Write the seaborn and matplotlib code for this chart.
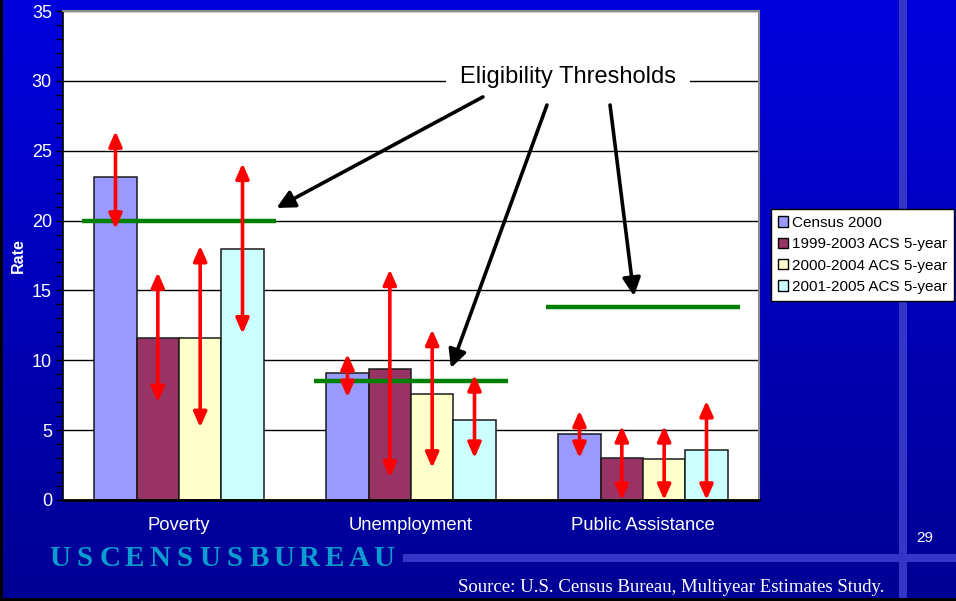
import numpy as np
import pandas as pd
import matplotlib
matplotlib.use("Agg")
import matplotlib.pyplot as plt
from matplotlib.patches import Patch, Rectangle
import seaborn as sns

# ---- data -------------------------------------------------------------
categories = ["Poverty", "Unemployment", "Public Assistance"]
series = ["Census 2000", "1999-2003 ACS 5-year",
          "2000-2004 ACS 5-year", "2001-2005 ACS 5-year"]
series_colors = ["#9999FF", "#993366", "#FFFFCC", "#CCFFFF"]

census_2000 = [23.1, 9.1, 4.7]
acs_1999_2003 = [11.6, 9.4, 3.0]
acs_2000_2004 = [11.6, 7.6, 2.9]
acs_2001_2005 = [18.0, 5.7, 3.6]

# interval bounds (low, high) per series, one value per category
census_2000_low = [19.4, 7.35, 3.0]
census_2000_high = [26.4, 10.45, 6.4]
acs_1999_2003_low = [7.0, 1.6, 0.0]
acs_1999_2003_high = [16.3, 16.5, 5.3]
acs_2000_2004_low = [5.2, 2.3, 0.0]
acs_2000_2004_high = [18.2, 12.2, 5.3]
acs_2001_2005_low = [11.9, 3.0, 0.0]
acs_2001_2005_high = [24.1, 8.95, 7.1]

thresholds = [20.0, 8.5, 13.8]
yticks = [0, 5, 10, 15, 20, 25, 30, 35]

values = [census_2000, acs_1999_2003, acs_2000_2004, acs_2001_2005]
lows = [census_2000_low, acs_1999_2003_low, acs_2000_2004_low, acs_2001_2005_low]
highs = [census_2000_high, acs_1999_2003_high, acs_2000_2004_high, acs_2001_2005_high]

df = pd.DataFrame(
    [(c, s, v[i]) for s, v in zip(series, values) for i, c in enumerate(categories)],
    columns=["category", "series", "rate"],
)

plt.rcParams["font.family"] = ["Liberation Sans", "DejaVu Sans"]

W, H = 956, 601
fig = plt.figure(figsize=(W / 100, H / 100), dpi=100)

# ---- slide background -------------------------------------------------
bg = fig.add_axes([0, 0, 1, 1])
bg.set_axis_off()
bg.set_xlim(0, 1)
bg.set_ylim(0, 1)
grad = np.linspace(0.58, 0.87, 256).reshape(-1, 1)
img = np.zeros((256, 1, 3))
img[..., 2] = grad
bg.imshow(img, extent=[0, 1, 0, 1], aspect="auto", origin="lower", zorder=0)
stripe = "#3535C8"
bg.add_patch(Rectangle((899 / W, 0), 8 / W, 1, color=stripe, lw=0, zorder=1))
bg.add_patch(Rectangle((403 / W, 1 - 562 / H), 1, 8 / H, color=stripe, lw=0, zorder=1))
bg.add_patch(Rectangle((0, 0), 3 / W, 1, color="black", lw=0, zorder=2))
bg.add_patch(Rectangle((0, 0), 1, 3 / H, color="black", lw=0, zorder=2))

# ---- chart ------------------------------------------------------------
ax = fig.add_axes([63 / W, 1 - 500 / H, 696 / W, 489 / H])
ax.set_facecolor("white")

sns.barplot(data=df, x="category", y="rate", hue="series",
            order=categories, hue_order=series, palette=series_colors,
            saturation=1, width=0.73, gap=0, edgecolor="#1A1A1A", linewidth=1.1,
            errorbar=None, ax=ax, zorder=2)
leg = ax.get_legend()
if leg is not None:
    leg.remove()

ax.set_ylim(0, 35)
ax.set_xlim(-0.5, 2.5)
ax.set_yticks(yticks)
ax.set_yticks(np.arange(0, 36, 1), minor=True)
ax.set_axisbelow(True)
ax.yaxis.grid(True, which="major", color="black", lw=1.0)
ax.xaxis.grid(False)

ax.tick_params(axis="y", which="both", direction="out", length=5, width=1,
               color="black", labelcolor="white", labelsize=13, pad=3)
ax.tick_params(axis="x", length=0, labelcolor="white", labelsize=13.3, pad=12)
ax.set_xlabel("")
ax.set_ylabel("Rate", color="white", fontsize=11.5, fontweight="bold")
ax.yaxis.set_label_coords(-0.054, 0.5)

for side in ["top", "right"]:
    ax.spines[side].set_color("#8C8C8C")
    ax.spines[side].set_linewidth(1.5)
ax.spines["left"].set_color("black")
ax.spines["left"].set_linewidth(1.2)
ax.spines["bottom"].set_color("black")
ax.spines["bottom"].set_linewidth(2.0)

# interval arrows centred on each bar
for j, cont in enumerate(ax.containers):
    for i, bar in enumerate(cont):
        xc = bar.get_x() + bar.get_width() / 2
        ax.annotate("", xy=(xc, highs[j][i]), xytext=(xc, lows[j][i]),
                    arrowprops=dict(arrowstyle="<|-|>,head_length=0.75,head_width=0.33",
                                    color="#FF0000", lw=2.6, shrinkA=0, shrinkB=0,
                                    mutation_scale=12),
                    zorder=5)

# eligibility threshold lines
half = 0.42
for i, t in enumerate(thresholds):
    ax.plot([i - half, i + half], [t, t], color="#008000", lw=3.2,
            solid_capstyle="butt", zorder=4)

# label with pointers to the three threshold lines
ax.text(1.677, 30.3, "Eligibility Thresholds", ha="center", va="center",
        fontsize=17, color="black", zorder=6,
        bbox=dict(facecolor="white", edgecolor="none", pad=10))
pointers = [((1.31, 28.85), (0 + half, thresholds[0] + 0.9)),
            ((1.586, 28.27), (1.172, thresholds[1] + 0.95)),
            ((1.858, 28.27), (1.961, thresholds[2] + 0.8))]
for start, tip in pointers:
    ax.annotate("", xy=tip, xytext=start,
                arrowprops=dict(arrowstyle="-|>,head_length=0.9,head_width=0.45",
                                color="black", lw=2.6, shrinkA=0, shrinkB=0,
                                mutation_scale=12),
                zorder=6)

# ---- legend -----------------------------------------------------------
handles = [Patch(facecolor=c, edgecolor="black", lw=1.0) for c in series_colors]
fig.legend(handles, series, loc="upper left",
           bbox_to_anchor=(771 / W, 1 - 209 / H), bbox_transform=fig.transFigure,
           frameon=True, fancybox=False, edgecolor="black", facecolor="white",
           framealpha=1, fontsize=11, handlelength=0.65, handleheight=0.65,
           handletextpad=0.25, labelspacing=0.48, borderpad=0.45, borderaxespad=0)

# ---- slide furniture --------------------------------------------------
logo = "USCENSUSBUREAU"
x0, pitch = 60, 24.9
for k, ch in enumerate(logo):
    fig.text((x0 + k * pitch) / W, 1 - 558 / H, ch, ha="center", va="center",
             fontsize=21, fontweight="bold", color="#0A9BD0",
             family="Liberation Serif")

fig.text(925 / W, 1 - 538 / H, "29", ha="center", va="center",
         fontsize=11, color="white")
fig.text(884 / W, 1 - 587 / H, "Source: U.S. Census Bureau, Multiyear Estimates Study.",
         ha="right", va="center", fontsize=13.5, color="white",
         family="Liberation Serif")

fig.savefig("out.png", dpi=100)
